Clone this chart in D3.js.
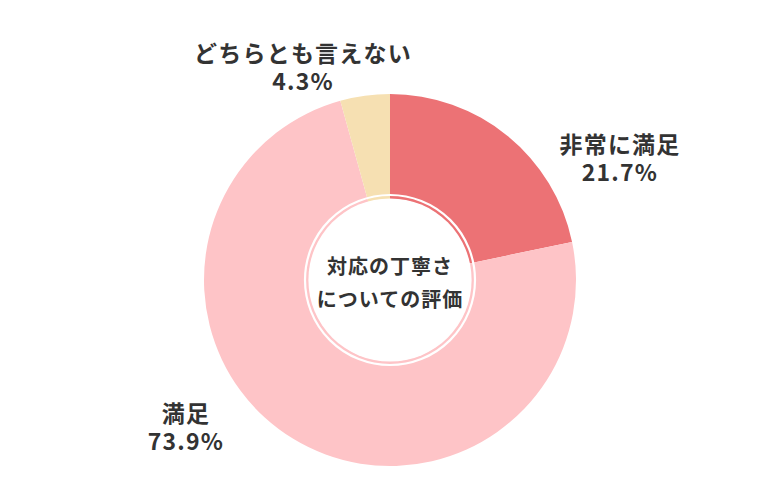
<!DOCTYPE html>
<meta charset="utf-8">
<title>対応の丁寧さについての評価</title>
<style>
  body { margin: 0; background: #fff; }
  text { font-family: "Noto Sans CJK JP", "Noto Sans", sans-serif; font-weight: 700; fill: #333; }
</style>
<body>
<div id="chart"></div>
<script src="https://cdn.jsdelivr.net/npm/d3@7"></script>
<script>

// データ
var categories = ["非常に満足", "満足", "どちらとも言えない"];
var values = [21.7, 73.9, 4.3];
var colors = ["#ec7275", "#fec4c7", "#f6e0b2"];
var centerLines = ["対応の丁寧さ", "についての評価"];

// レイアウト
var width = 780, height = 500;
var cx = 390, cy = 280;
var outerR = 186, innerR = 81;
// ラベルの位置（中心からのずれ）
var labelOffset = [[230, -123], [-204, 146], [-87, -214]];

var svg = d3.select("#chart")
  .append("svg")
    .attr("width", width)
    .attr("height", height);

var g = svg.append("g")
    .attr("transform", "translate(" + cx + "," + cy + ")");

var pie = d3.pie()
    .sort(null)
    .value(function(d) { return d; });

var arc = d3.arc()
    .innerRadius(innerR)
    .outerRadius(outerR);

var arcs = pie(values);

g.selectAll("path")
  .data(arcs)
  .enter()
  .append("path")
    .attr("d", arc)
    .style("fill", function(d, i) { return colors[i]; });

// 白いすき間と中央の円
g.append("circle")
    .attr("r", 85)
    .style("fill", "none")
    .style("stroke", "#fff")
    .style("stroke-width", 2.2);
g.append("circle")
    .attr("r", 81.6)
    .style("fill", "#fff");

// 中央テキスト
g.selectAll(".center")
  .data(centerLines)
  .enter()
  .append("text")
    .attr("class", "center")
    .attr("text-anchor", "middle")
    .attr("dominant-baseline", "central")
    .attr("y", function(d, i) { return -15 + i * 33; })
    .style("font-size", "20px")
    .style("letter-spacing", "1px")
    .text(function(d) { return d; });

// ラベル（項目名）
g.selectAll(".label")
  .data(arcs)
  .enter()
  .append("text")
    .attr("class", "label")
    .attr("text-anchor", "middle")
    .attr("dominant-baseline", "central")
    .attr("x", function(d, i) { return labelOffset[i][0]; })
    .attr("y", function(d, i) { return labelOffset[i][1] - 14; })
    .style("font-size", "23px")
    .style("letter-spacing", "1.2px")
    .text(function(d, i) { return categories[i]; });

// ラベル（割合）
g.selectAll(".pct")
  .data(arcs)
  .enter()
  .append("text")
    .attr("class", "pct")
    .attr("text-anchor", "middle")
    .attr("dominant-baseline", "central")
    .attr("x", function(d, i) { return labelOffset[i][0]; })
    .attr("y", function(d, i) { return labelOffset[i][1] + 14; })
    .style("font-size", "23px")
    .style("letter-spacing", "1.2px")
    .text(function(d) { return d.data.toFixed(1) + "%"; });

</script>
</body>
